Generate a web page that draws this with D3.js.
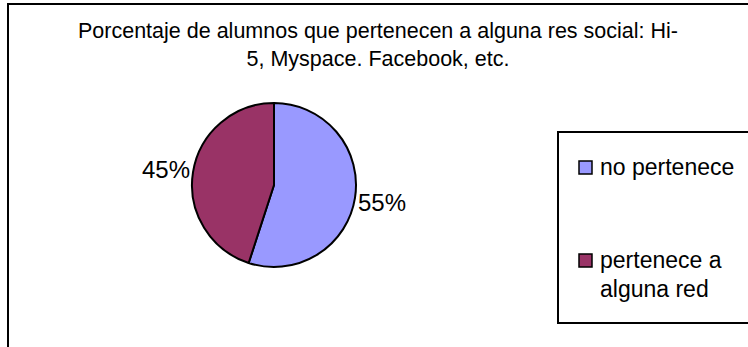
<!DOCTYPE html>
<html><head><meta charset="utf-8">
<script src="https://cdn.jsdelivr.net/npm/d3@7"></script>
<style>body{margin:0;background:#fff}svg{display:block}text{font-family:"Liberation Sans",Arial,sans-serif;fill:#000}</style>
</head><body>
<script>
const categories = ["no pertenece", "pertenece a alguna red"];
const values = [55, 45];
const percentLabels = ["55%", "45%"];
const colors = ["#9999FF", "#993366"];
const titleLines = ["Porcentaje de alumnos que pertenecen a alguna res social: Hi-", "5, Myspace. Facebook, etc."];
const legendLines = [["no pertenece"], ["pertenece a", "alguna red"]];

const W = 748, H = 347;
const svg = d3.select("body").append("svg").attr("width", W).attr("height", H);

// outer chart frame
svg.append("rect").attr("x", 8).attr("y", 4).attr("width", 900).attr("height", 500)
  .attr("fill", "#fff").attr("stroke", "#000").attr("stroke-width", 2);

// title
svg.append("g").selectAll("text").data(titleLines).join("text")
  .attr("x", 378).attr("y", (d, i) => 31 + i * 28)
  .attr("text-anchor", "middle").attr("dominant-baseline", "central")
  .attr("font-size", 21.5).text(d => d);

// pie
const cx = 274, cy = 185, r = 82;
const pie = d3.pie().sort(null).value(d => d)(values);
const arc = d3.arc().innerRadius(0).outerRadius(r);
const g = svg.append("g").attr("transform", `translate(${cx},${cy})`);
g.selectAll("path").data(pie).join("path")
  .attr("d", arc).attr("fill", (d, i) => colors[i])
  .attr("stroke", "#000").attr("stroke-width", 2).attr("stroke-linejoin", "round");

// percent labels
g.selectAll("text.lbl").data(pie).join("text").attr("class", "lbl")
  .each(function(d, i) {
    const a = (d.startAngle + d.endAngle) / 2;
    const lr = r + 3;
    const x = lr * Math.sin(a), y = -lr * Math.cos(a);
    d3.select(this).attr("x", x).attr("y", y + (y > 0 ? 4 : -2))
      .attr("text-anchor", x >= 0 ? "start" : "end")
      .attr("dominant-baseline", "central")
      .attr("font-size", 24).text(percentLabels[i]);
  });

// legend
const lg = svg.append("g");
lg.append("rect").attr("x", 558).attr("y", 132).attr("width", 300).attr("height", 191)
  .attr("fill", "#fff").attr("stroke", "#000").attr("stroke-width", 2);
const itemY = [167, 260];
const items = lg.selectAll("g.item").data(categories).join("g").attr("class", "item")
  .attr("transform", (d, i) => `translate(579,${itemY[i]})`);
items.append("rect").attr("x", 0).attr("y", -6).attr("width", 13).attr("height", 13)
  .attr("fill", (d, i) => colors[i]).attr("stroke", "#000").attr("stroke-width", 1.5);
items.each(function(d, i) {
  d3.select(this).selectAll("text").data(legendLines[i]).join("text")
    .attr("x", 21).attr("y", (t, j) => j * 29)
    .attr("dominant-baseline", "central").attr("font-size", 23).text(t => t);
});
</script>
</body></html>
